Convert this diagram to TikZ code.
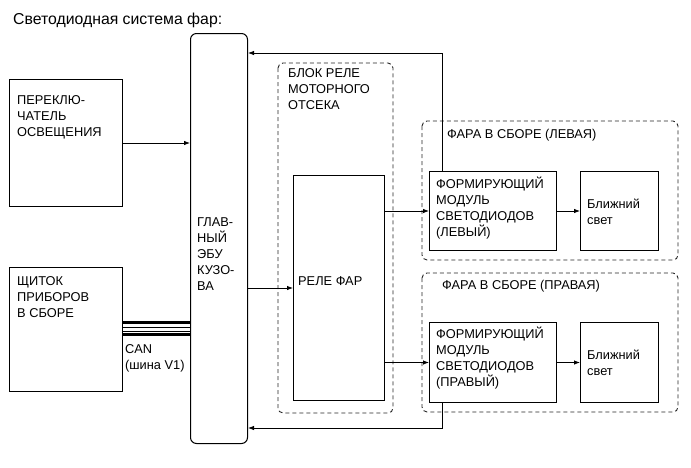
\documentclass[tikz,border=0pt]{standalone}
\usepackage{fontspec}
\setmainfont{Liberation Sans}
\usetikzlibrary{calc}
\usetikzlibrary{arrows.meta}

\tikzset{
  box/.style={draw,line width=1pt,inner sep=0pt,anchor=north west},
  dbox/.style={draw=black!85,line width=0.9pt,dashed,dash pattern=on 4pt off 3pt,rounded corners=5pt},
  txt/.style={inner sep=0pt,anchor=base west,align=left,font=\fontsize{12.8}{16}\selectfont},
  arr/.style={line width=0.8pt,-{Latex[length=6pt,width=4.5pt]}}
}

\begin{document}
\begin{tikzpicture}[x=1pt,y=-1pt]
\useasboundingbox (0,0) rectangle (691,467);
\node[inner sep=0pt,anchor=base west,font=\fontsize{15.8}{18}\selectfont] (title) at (13,24) {Светодиодная система фар:};

% left side (text nodes sit on the baseline of their last line)
\node[box,minimum width=113pt,minimum height=127pt] (sw) at (9,79) {};
\node[txt] (swt) at (17,136) {ПЕРЕКЛЮ-\\ЧАТЕЛЬ\\ОСВЕЩЕНИЯ};
\node[box,minimum width=113pt,minimum height=124pt] (cl) at (9,267) {};
\node[txt] (clt) at (17,317) {ЩИТОК\\ПРИБОРОВ\\В СБОРЕ};

% body ECU
\node[box,rounded corners=6pt,minimum width=57pt,minimum height=410pt] (ecu) at (190,33) {};
\node[txt] (ecut) at (197,290) {ГЛАВ-\\НЫЙ\\ЭБУ\\КУЗО-\\ВА};

% engine room relay block
\draw[dbox] (278,63) rectangle (393,413);
\node[txt] (blk) at (288,109) {БЛОК РЕЛЕ\\МОТОРНОГО\\ОТСЕКА};
\node[box,minimum width=91pt,minimum height=225pt] (rel) at (293,175) {};
\node[txt] (relt) at (298,285) {РЕЛЕ ФАР};

% headlamps
\draw[dbox] (422,121) rectangle (678,260);
\node[txt] (hlt) at (447,138) {ФАРА В СБОРЕ (ЛЕВАЯ)};
\node[box,minimum width=127pt,minimum height=79pt] (ml) at (429,171) {};
\node[txt] (mlt) at (436,236) {ФОРМИРУЮЩИЙ\\МОДУЛЬ\\СВЕТОДИОДОВ\\(ЛЕВЫЙ)};
\node[box,minimum width=78pt,minimum height=79pt] (bl) at (580,171) {};
\node[txt] (blt) at (587,224) {Ближний\\свет};

\draw[dbox] (422,273) rectangle (678,412);
\node[txt] (hrt) at (442,289) {ФАРА В СБОРЕ (ПРАВАЯ)};
\node[box,minimum width=127pt,minimum height=80pt] (mr) at (429,322) {};
\node[txt] (mrt) at (436,386) {ФОРМИРУЮЩИЙ\\МОДУЛЬ\\СВЕТОДИОДОВ\\(ПРАВЫЙ)};
\node[box,minimum width=78pt,minimum height=80pt] (br) at (580,322) {};
\node[txt] (brt) at (587,375) {Ближний\\свет};

% connectors
\draw[arr] (sw.east) -- (sw.east -| ecu.west);
\draw[arr] (rel.west -| ecu.east) -- (rel.west);
\draw[arr] (ml.west -| rel.east) -- (ml.west);
\draw[arr] (ml.east) -- (bl.west);
\draw[arr] (mr.west -| rel.east) -- (mr.west);
\draw[arr] (mr.east) -- (br.west);

\coordinate (mlup) at ($(ml.north west)+(13,0)$);
\coordinate (mltop) at ($(mlup)+(0,-118)$);
\coordinate (mrdn) at ($(mr.south west)+(13,0)$);
\coordinate (mrbot) at ($(mrdn)+(0,25)$);
\draw[arr] (mlup) -- (mltop) -- (mltop -| ecu.east);
\draw[arr] (mrdn) -- (mrbot) -- (mrbot -| ecu.east);

% CAN bus
\foreach \dy/\w in {-7/2.6pt,-2.5/0.7pt,1.5/0.7pt,5/2.6pt}{
  \coordinate (c) at ($(cl.east)+(0,\dy)$);
  \draw[line width=\w] (c) -- (c -| ecu.west);
}
\node[txt] (can) at (125,369) {CAN\\(шина V1)};
\end{tikzpicture}
\end{document}
